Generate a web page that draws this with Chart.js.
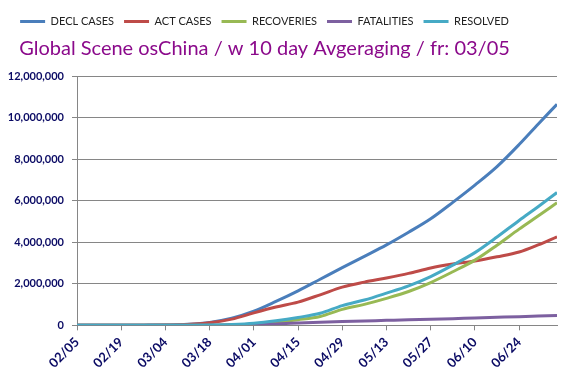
<!DOCTYPE html>
<html><head><meta charset="utf-8">
<script src="https://cdn.jsdelivr.net/npm/chart.js@4/dist/chart.umd.min.js"></script>
<style>html,body{margin:0;padding:0;background:#fff}#wrap{width:577px;height:384px}</style>
</head><body><div id="wrap"><canvas id="c" width="577" height="384"></canvas></div>
<script>
// day offsets from 02/05
const days = [0,7,14,21,28,35,42,49,56,63,70,77,84,91,98,105,112,119,126,133,140,146,152];
const tickDays = [0,14,28,42,56,70,84,98,112,126,140];
const tickLabels = ['02/05','02/19','03/04','03/18','04/01','04/15','04/29','05/13','05/27','06/10','06/24'];
const seriesNames = ['DECL CASES','ACT CASES','RECOVERIES','FATALITIES','RESOLVED'];
const seriesColors = ['#4A7EBB','#BE4B48','#98B954','#7D60A0','#46AAC5'];
const titleText = 'Global Scene osChina / w 10 day Avgeraging / fr: 03/05';

const declCases  = [2000,3000,5000,10000,20000,50000,140000,340000,680000,1150000,1660000,2220000,2780000,3320000,3870000,4480000,5130000,5920000,6750000,7640000,8700000,9680000,10640000];
const actCases   = [2000,3000,4000,9000,17000,45000,125000,300000,600000,880000,1120000,1470000,1840000,2080000,2280000,2500000,2760000,2950000,3100000,3300000,3530000,3870000,4260000];
const recoveries = [0,0,0,0,1000,3000,8000,25000,65000,150000,270000,430000,770000,1010000,1300000,1630000,2060000,2580000,3140000,3860000,4630000,5260000,5900000];
const fatalities = [0,0,0,0,0,1000,4000,15000,35000,70000,110000,150000,180000,210000,240000,270000,290000,320000,360000,390000,420000,450000,480000];
const resolved   = [0,0,1000,1000,2000,4000,12000,40000,100000,220000,380000,580000,950000,1220000,1550000,1900000,2350000,2900000,3500000,4250000,5050000,5710000,6390000];

const allSeries = [declCases, actCases, recoveries, fatalities, resolved];

const shiftPlugin = {
  id: 'shiftTop',
  afterLayout(chart) {
    if (chart.legend) { chart.legend.left -= 14; chart.legend.right -= 14; }
    if (chart.titleBlock) { chart.titleBlock.left -= 14; chart.titleBlock.right -= 14; }
  }
};

new Chart(document.getElementById('c'), {
  type: 'line',
  data: {
    datasets: allSeries.map((vals, i) => ({
      label: seriesNames[i],
      data: vals.map((v, j) => ({x: days[j], y: v})),
      borderColor: seriesColors[i],
      backgroundColor: seriesColors[i],
      borderWidth: 3,
      pointRadius: 0,
      cubicInterpolationMode: 'monotone',
      fill: false,
      order: allSeries.length - 1 - i
    }))
  },
  plugins: [shiftPlugin],
  options: {
    responsive: false,
    animation: false,
    devicePixelRatio: 1,
    layout: {padding: {left: 0, right: 20, top: 6, bottom: 9}},
    plugins: {
      legend: {
        position: 'top',
        weight: 3000,
        labels: {
          usePointStyle: true, pointStyle: 'line', pointStyleWidth: 25,
          boxHeight: 11, color: '#222',
          font: {family: 'Lato', size: 11},
          padding: 10,
          sort: (a, b) => a.datasetIndex - b.datasetIndex
        }
      },
      title: {
        display: true, text: titleText, color: '#8B0A8B',
        font: {family: 'Lato', size: 20, weight: 'normal'},
        padding: {top: 0, bottom: 15}
      },
      tooltip: {enabled: false}
    },
    scales: {
      x: {
        type: 'linear', min: 0, max: 152,
        afterBuildTicks: s => { s.ticks = tickDays.map(v => ({value: v})); },
        ticks: {
          callback: v => { const k = tickDays.indexOf(v); return k >= 0 ? tickLabels[k] : ''; },
          maxRotation: 45, minRotation: 45, autoSkip: false,
          color: '#0A0A64', font: {family: 'Lato', size: 13, weight: 'bold'}, padding: 4
        },
        grid: {drawOnChartArea: false, tickLength: 5, color: '#868686'},
        border: {color: '#868686'}
      },
      y: {
        min: 0, max: 12000000,
        afterFit: s => { s.width = 77; },
        ticks: {
          stepSize: 2000000,
          callback: v => v.toLocaleString('en-US'),
          color: '#0A0A64', font: {family: 'Lato', size: 11, weight: 'bold'}, padding: 8
        },
        grid: {color: '#868686', tickLength: 5},
        border: {color: '#868686'}
      }
    }
  }
});
</script>
</body></html>
